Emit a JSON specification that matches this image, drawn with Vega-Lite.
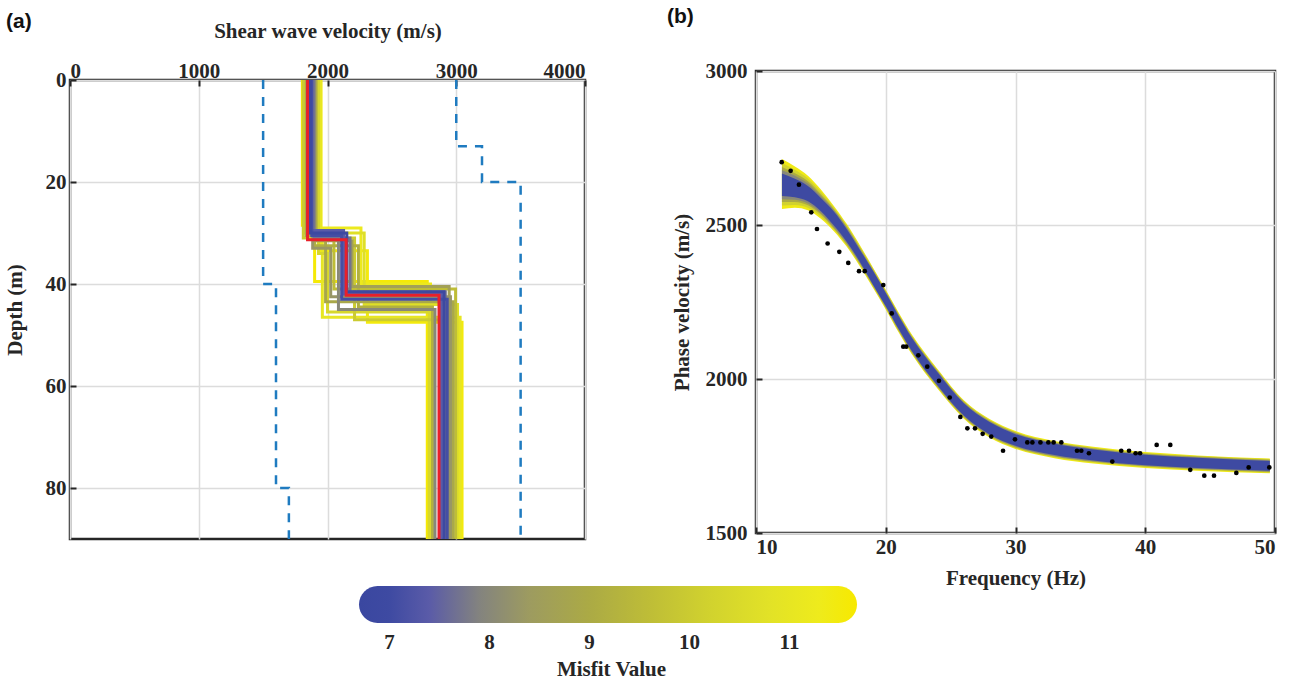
{
"$schema": "https://vega.github.io/schema/vega-lite/v6.json",
"background": "white",
"padding": {"left": 2, "top": 4, "right": 5, "bottom": 1},
"config": {
  "font": "Liberation Serif",
  "view": {"stroke": "#262626", "strokeWidth": 2.5},
  "axis": {"labelFont": "Liberation Serif", "labelFontSize": 21, "labelFontWeight": "bold", "labelColor": "#262626", "titleFont": "Liberation Serif", "titleFontSize": 21, "titleFontWeight": "bold", "titleColor": "#262626", "domain": false, "ticks": true, "tickSize": -6, "tickColor": "#262626", "tickWidth": 2, "gridColor": "#dcdcdc", "gridWidth": 1.5},
  "title": {"font": "Liberation Sans", "fontSize": 21, "fontWeight": "bold", "color": "#111111", "anchor": "start", "frame": "group", "offset": 0}
},
"datasets": {
  "bounds": [
    {"s":"L","k":0,"d":0,"v":1500},{"s":"L","k":1,"d":40,"v":1500},{"s":"L","k":2,"d":40,"v":1600},{"s":"L","k":3,"d":80,"v":1600},{"s":"L","k":4,"d":80,"v":1700},{"s":"L","k":5,"d":90,"v":1700},
    {"s":"U","k":0,"d":0,"v":3000},{"s":"U","k":1,"d":13,"v":3000},{"s":"U","k":2,"d":13,"v":3200},{"s":"U","k":3,"d":20,"v":3200},{"s":"U","k":4,"d":20,"v":3500},{"s":"U","k":5,"d":90,"v":3500}
  ],
  "ensemble": [
    {"id":1,"m":11.6,"k":0,"d":0,"v":1805},{"id":1,"m":11.6,"k":1,"d":28.5,"v":1805},{"id":1,"m":11.6,"k":2,"d":28.5,"v":1900},{"id":1,"m":11.6,"k":3,"d":39.5,"v":1900},{"id":1,"m":11.6,"k":4,"d":39.5,"v":2775},{"id":1,"m":11.6,"k":5,"d":90,"v":2775},
    {"id":2,"m":11.5,"k":0,"d":0,"v":1950},{"id":2,"m":11.5,"k":1,"d":33.5,"v":1950},{"id":2,"m":11.5,"k":2,"d":33.5,"v":2310},{"id":2,"m":11.5,"k":3,"d":47.5,"v":2310},{"id":2,"m":11.5,"k":4,"d":47.5,"v":3045},{"id":2,"m":11.5,"k":5,"d":90,"v":3045},
    {"id":3,"m":11.2,"k":0,"d":0,"v":1815},{"id":3,"m":11.2,"k":1,"d":29,"v":1815},{"id":3,"m":11.2,"k":2,"d":29,"v":2260},{"id":3,"m":11.2,"k":3,"d":40,"v":2260},{"id":3,"m":11.2,"k":4,"d":40,"v":2800},{"id":3,"m":11.2,"k":5,"d":90,"v":2800},
    {"id":4,"m":11.0,"k":0,"d":0,"v":1945},{"id":4,"m":11.0,"k":1,"d":32,"v":1945},{"id":4,"m":11.0,"k":2,"d":32,"v":1960},{"id":4,"m":11.0,"k":3,"d":46.5,"v":1960},{"id":4,"m":11.0,"k":4,"d":46.5,"v":3030},{"id":4,"m":11.0,"k":5,"d":90,"v":3030},
    {"id":5,"m":10.7,"k":0,"d":0,"v":1825},{"id":5,"m":10.7,"k":1,"d":30,"v":1825},{"id":5,"m":10.7,"k":2,"d":30,"v":2285},{"id":5,"m":10.7,"k":3,"d":44,"v":2285},{"id":5,"m":10.7,"k":4,"d":44,"v":3010},{"id":5,"m":10.7,"k":5,"d":90,"v":3010},
    {"id":6,"m":10.4,"k":0,"d":0,"v":1930},{"id":6,"m":10.4,"k":1,"d":34,"v":1930},{"id":6,"m":10.4,"k":2,"d":34,"v":2000},{"id":6,"m":10.4,"k":3,"d":45.5,"v":2000},{"id":6,"m":10.4,"k":4,"d":45.5,"v":2790},{"id":6,"m":10.4,"k":5,"d":90,"v":2790},
    {"id":7,"m":10.0,"k":0,"d":0,"v":1812},{"id":7,"m":10.0,"k":1,"d":31,"v":1812},{"id":7,"m":10.0,"k":2,"d":31,"v":2210},{"id":7,"m":10.0,"k":3,"d":47,"v":2210},{"id":7,"m":10.0,"k":4,"d":47,"v":2965},{"id":7,"m":10.0,"k":5,"d":90,"v":2965},
    {"id":8,"m":9.6,"k":0,"d":0,"v":1915},{"id":8,"m":9.6,"k":1,"d":29.5,"v":1915},{"id":8,"m":9.6,"k":2,"d":29.5,"v":2050},{"id":8,"m":9.6,"k":3,"d":41,"v":2050},{"id":8,"m":9.6,"k":4,"d":41,"v":2995},{"id":8,"m":9.6,"k":5,"d":90,"v":2995},
    {"id":9,"m":9.2,"k":0,"d":0,"v":1900},{"id":9,"m":9.2,"k":1,"d":32.5,"v":1900},{"id":9,"m":9.2,"k":2,"d":32.5,"v":2240},{"id":9,"m":9.2,"k":3,"d":44.5,"v":2240},{"id":9,"m":9.2,"k":4,"d":44.5,"v":2815},{"id":9,"m":9.2,"k":5,"d":90,"v":2815},
    {"id":10,"m":8.9,"k":0,"d":0,"v":1835},{"id":10,"m":8.9,"k":1,"d":30.5,"v":1835},{"id":10,"m":8.9,"k":2,"d":30.5,"v":1985},{"id":10,"m":8.9,"k":3,"d":43.5,"v":1985},{"id":10,"m":8.9,"k":4,"d":43.5,"v":2975},{"id":10,"m":8.9,"k":5,"d":90,"v":2975},
    {"id":11,"m":8.6,"k":0,"d":0,"v":1905},{"id":11,"m":8.6,"k":1,"d":31.5,"v":1905},{"id":11,"m":8.6,"k":2,"d":31.5,"v":2190},{"id":11,"m":8.6,"k":3,"d":40.5,"v":2190},{"id":11,"m":8.6,"k":4,"d":40.5,"v":2945},{"id":11,"m":8.6,"k":5,"d":90,"v":2945},
    {"id":12,"m":8.3,"k":0,"d":0,"v":1885},{"id":12,"m":8.3,"k":1,"d":33,"v":1885},{"id":12,"m":8.3,"k":2,"d":33,"v":2025},{"id":12,"m":8.3,"k":3,"d":42.5,"v":2025},{"id":12,"m":8.3,"k":4,"d":42.5,"v":2955},{"id":12,"m":8.3,"k":5,"d":90,"v":2955},
    {"id":13,"m":8.0,"k":0,"d":0,"v":1860},{"id":13,"m":8.0,"k":1,"d":30,"v":1860},{"id":13,"m":8.0,"k":2,"d":30,"v":2085},{"id":13,"m":8.0,"k":3,"d":45,"v":2085},{"id":13,"m":8.0,"k":4,"d":45,"v":2835},{"id":13,"m":8.0,"k":5,"d":90,"v":2835},
    {"id":14,"m":7.7,"k":0,"d":0,"v":1895},{"id":14,"m":7.7,"k":1,"d":31,"v":1895},{"id":14,"m":7.7,"k":2,"d":31,"v":2175},{"id":14,"m":7.7,"k":3,"d":41.5,"v":2175},{"id":14,"m":7.7,"k":4,"d":41.5,"v":2915},{"id":14,"m":7.7,"k":5,"d":90,"v":2915},
    {"id":15,"m":7.4,"k":0,"d":0,"v":1870},{"id":15,"m":7.4,"k":1,"d":29.5,"v":1870},{"id":15,"m":7.4,"k":2,"d":29.5,"v":2125},{"id":15,"m":7.4,"k":3,"d":42,"v":2125},{"id":15,"m":7.4,"k":4,"d":42,"v":2885},{"id":15,"m":7.4,"k":5,"d":90,"v":2885},
    {"id":16,"m":7.1,"k":0,"d":0,"v":1878},{"id":16,"m":7.1,"k":1,"d":30.5,"v":1878},{"id":16,"m":7.1,"k":2,"d":30.5,"v":2110},{"id":16,"m":7.1,"k":3,"d":43,"v":2110},{"id":16,"m":7.1,"k":4,"d":43,"v":2930},{"id":16,"m":7.1,"k":5,"d":90,"v":2930},
    {"id":17,"m":6.9,"k":0,"d":0,"v":1866},{"id":17,"m":6.9,"k":1,"d":30,"v":1866},{"id":17,"m":6.9,"k":2,"d":30,"v":2150},{"id":17,"m":6.9,"k":3,"d":41.5,"v":2150},{"id":17,"m":6.9,"k":4,"d":41.5,"v":2905},{"id":17,"m":6.9,"k":5,"d":90,"v":2905}
  ],
  "best": [
    {"k":0,"d":0,"v":1845},{"k":1,"d":31.3,"v":1845},{"k":2,"d":31.3,"v":2145},{"k":3,"d":42.2,"v":2145},{"k":4,"d":42.2,"v":2866},{"k":5,"d":90,"v":2866}
  ],
  "bands": [
    {"m":11.4,"f":12,"hi":2714,"lo":2552},{"m":11.4,"f":13,"hi":2690,"lo":2556},{"m":11.4,"f":14,"hi":2660,"lo":2548},{"m":11.4,"f":15,"hi":2615,"lo":2520},{"m":11.4,"f":16,"hi":2562,"lo":2480},{"m":11.4,"f":17,"hi":2503,"lo":2429},{"m":11.4,"f":18,"hi":2435,"lo":2366},{"m":11.4,"f":19,"hi":2363,"lo":2297},{"m":11.4,"f":20,"hi":2290,"lo":2226},{"m":11.4,"f":21,"hi":2215,"lo":2151},{"m":11.4,"f":22,"hi":2145,"lo":2081},{"m":11.4,"f":24,"hi":2032,"lo":1968},{"m":11.4,"f":26,"hi":1932,"lo":1872},{"m":11.4,"f":28,"hi":1870,"lo":1810},{"m":11.4,"f":30,"hi":1831,"lo":1773},{"m":11.4,"f":33,"hi":1799,"lo":1743},{"m":11.4,"f":36,"hi":1780,"lo":1726},{"m":11.4,"f":40,"hi":1763,"lo":1711},{"m":11.4,"f":44,"hi":1752,"lo":1702},{"m":11.4,"f":49.6,"hi":1742,"lo":1694},
    {"m":10.2,"f":12,"hi":2701,"lo":2563},{"m":10.2,"f":13,"hi":2679,"lo":2565},{"m":10.2,"f":14,"hi":2651,"lo":2556},{"m":10.2,"f":15,"hi":2608,"lo":2527},{"m":10.2,"f":16,"hi":2557,"lo":2485},{"m":10.2,"f":17,"hi":2498,"lo":2433},{"m":10.2,"f":18,"hi":2431,"lo":2370},{"m":10.2,"f":19,"hi":2360,"lo":2300},{"m":10.2,"f":20,"hi":2287,"lo":2229},{"m":10.2,"f":21,"hi":2212,"lo":2154},{"m":10.2,"f":22,"hi":2142,"lo":2084},{"m":10.2,"f":24,"hi":2029,"lo":1971},{"m":10.2,"f":26,"hi":1929,"lo":1875},{"m":10.2,"f":28,"hi":1867,"lo":1813},{"m":10.2,"f":30,"hi":1828,"lo":1776},{"m":10.2,"f":33,"hi":1796,"lo":1746},{"m":10.2,"f":36,"hi":1777,"lo":1729},{"m":10.2,"f":40,"hi":1760,"lo":1714},{"m":10.2,"f":44,"hi":1750,"lo":1705},{"m":10.2,"f":49.6,"hi":1740,"lo":1696},
    {"m":9.0,"f":12,"hi":2688,"lo":2575},{"m":9.0,"f":13,"hi":2668,"lo":2575},{"m":9.0,"f":14,"hi":2642,"lo":2564},{"m":9.0,"f":15,"hi":2600,"lo":2534},{"m":9.0,"f":16,"hi":2552,"lo":2489},{"m":9.0,"f":17,"hi":2494,"lo":2437},{"m":9.0,"f":18,"hi":2427,"lo":2374},{"m":9.0,"f":19,"hi":2357,"lo":2303},{"m":9.0,"f":20,"hi":2284,"lo":2232},{"m":9.0,"f":21,"hi":2209,"lo":2157},{"m":9.0,"f":22,"hi":2139,"lo":2087},{"m":9.0,"f":24,"hi":2026,"lo":1974},{"m":9.0,"f":26,"hi":1927,"lo":1877},{"m":9.0,"f":28,"hi":1865,"lo":1815},{"m":9.0,"f":30,"hi":1826,"lo":1778},{"m":9.0,"f":33,"hi":1794,"lo":1748},{"m":9.0,"f":36,"hi":1775,"lo":1731},{"m":9.0,"f":40,"hi":1758,"lo":1716},{"m":9.0,"f":44,"hi":1748,"lo":1707},{"m":9.0,"f":49.6,"hi":1738,"lo":1698},
    {"m":8.0,"f":12,"hi":2678,"lo":2584},{"m":8.0,"f":13,"hi":2660,"lo":2582},{"m":8.0,"f":14,"hi":2635,"lo":2570},{"m":8.0,"f":15,"hi":2594,"lo":2539},{"m":8.0,"f":16,"hi":2548,"lo":2493},{"m":8.0,"f":17,"hi":2491,"lo":2441},{"m":8.0,"f":18,"hi":2423,"lo":2377},{"m":8.0,"f":19,"hi":2354,"lo":2306},{"m":8.0,"f":20,"hi":2282,"lo":2234},{"m":8.0,"f":21,"hi":2207,"lo":2159},{"m":8.0,"f":22,"hi":2137,"lo":2089},{"m":8.0,"f":24,"hi":2024,"lo":1976},{"m":8.0,"f":26,"hi":1924,"lo":1880},{"m":8.0,"f":28,"hi":1862,"lo":1818},{"m":8.0,"f":30,"hi":1824,"lo":1781},{"m":8.0,"f":33,"hi":1792,"lo":1750},{"m":8.0,"f":36,"hi":1773,"lo":1733},{"m":8.0,"f":40,"hi":1756,"lo":1718},{"m":8.0,"f":44,"hi":1746,"lo":1709},{"m":8.0,"f":49.6,"hi":1736,"lo":1700},
    {"m":7.0,"f":12,"hi":2667,"lo":2594},{"m":7.0,"f":13,"hi":2650,"lo":2590},{"m":7.0,"f":14,"hi":2627,"lo":2577},{"m":7.0,"f":15,"hi":2588,"lo":2545},{"m":7.0,"f":16,"hi":2544,"lo":2498},{"m":7.0,"f":17,"hi":2486,"lo":2445},{"m":7.0,"f":18,"hi":2420,"lo":2381},{"m":7.0,"f":19,"hi":2352,"lo":2308},{"m":7.0,"f":20,"hi":2279,"lo":2237},{"m":7.0,"f":21,"hi":2204,"lo":2162},{"m":7.0,"f":22,"hi":2134,"lo":2092},{"m":7.0,"f":24,"hi":2021,"lo":1979},{"m":7.0,"f":26,"hi":1922,"lo":1882},{"m":7.0,"f":28,"hi":1860,"lo":1820},{"m":7.0,"f":30,"hi":1821,"lo":1783},{"m":7.0,"f":33,"hi":1790,"lo":1753},{"m":7.0,"f":36,"hi":1771,"lo":1735},{"m":7.0,"f":40,"hi":1754,"lo":1720},{"m":7.0,"f":44,"hi":1744,"lo":1711},{"m":7.0,"f":49.6,"hi":1734,"lo":1702}
  ],
  "obs": [
    {"f":11.98,"v":2704},{"f":12.67,"v":2676},{"f":13.31,"v":2631},{"f":14.26,"v":2541},{"f":14.7,"v":2487},{"f":15.52,"v":2440},{"f":16.42,"v":2413},{"f":17.11,"v":2377},{"f":17.94,"v":2350},{"f":18.38,"v":2350},
    {"f":19.81,"v":2305},{"f":20.46,"v":2213},{"f":21.35,"v":2105},{"f":21.58,"v":2105},{"f":22.51,"v":2077},{"f":23.2,"v":2040},{"f":24.1,"v":1994},{"f":24.93,"v":1940},{"f":25.75,"v":1877},{"f":26.29,"v":1840},
    {"f":26.88,"v":1840},{"f":27.47,"v":1822},{"f":28.13,"v":1813},{"f":29.04,"v":1767},{"f":29.96,"v":1804},{"f":30.91,"v":1794},{"f":31.3,"v":1794},{"f":31.92,"v":1794},{"f":32.53,"v":1794},{"f":32.94,"v":1794},
    {"f":33.53,"v":1794},{"f":34.74,"v":1767},{"f":35.07,"v":1767},{"f":35.66,"v":1759},{"f":37.46,"v":1732},{"f":38.15,"v":1767},{"f":38.75,"v":1767},{"f":39.26,"v":1759},{"f":39.6,"v":1759},{"f":40.88,"v":1786},
    {"f":41.93,"v":1786},{"f":43.47,"v":1705},{"f":44.55,"v":1686},{"f":45.3,"v":1686},{"f":47.02,"v":1695},{"f":47.97,"v":1713},{"f":49.56,"v":1713}
  ]
},
"spacing": 686,
"bounds": "flush",
"hconcat": [
  {
    "spacing": 0,
    "bounds": "flush",
    "vconcat": [
      {"width": 515, "height": 9, "view": {"stroke": null}, "data": {"values": [{"a": 1}]}, "mark": {"type": "text", "text": ""}, "encoding": {}},
      {
        "width": 515, "height": 459,
        "title": {"text": "(a)", "dx": -64, "dy": 15.5},
        "layer": [
          {
            "data": {"name": "bounds"},
            "mark": {"type": "line", "strokeDash": [9, 8], "strokeWidth": 2.5, "color": "#1f7bc0", "clip": true},
            "encoding": {
              "x": {"field": "v", "type": "quantitative", "scale": {"domain": [0, 4000], "nice": false, "zero": false},
                    "axis": {"orient": "top", "values": [0, 1000, 2000, 3000, 4000], "format": "d", "title": "Shear wave velocity (m/s)", "labelPadding": 5, "titlePadding": 19, "grid": true}},
              "y": {"field": "d", "type": "quantitative", "scale": {"domain": [0, 90], "nice": false, "zero": false, "reverse": true},
                    "axis": {"orient": "left", "values": [0, 20, 40, 60, 80], "format": "d", "title": "Depth (m)", "labelPadding": 10, "titlePadding": 20, "grid": true}},
              "detail": {"field": "s", "type": "nominal"},
              "order": {"field": "k", "type": "quantitative"}
            }
          },
          {
            "data": {"name": "ensemble"},
            "mark": {"type": "line", "strokeWidth": 3, "strokeJoin": "miter", "clip": true},
            "encoding": {
              "x": {"field": "v", "type": "quantitative"},
              "y": {"field": "d", "type": "quantitative"},
              "color": {"field": "m", "type": "quantitative", "legend": null,
                        "scale": {"domain": [6.7, 7.0, 7.4, 7.9, 8.4, 9.0, 9.6, 10.2, 10.8, 11.3, 11.68], "range": ["#3a47a0", "#3e4aa2", "#5a5ba8", "#83837f", "#9d9b60", "#abaa45", "#bebd37", "#d1d22e", "#e2e227", "#eeeb1c", "#f7e900"], "interpolate": "rgb", "clamp": true}},
              "detail": {"field": "id", "type": "nominal"},
              "order": {"field": "k", "type": "quantitative"}
            }
          },
          {
            "data": {"name": "best"},
            "mark": {"type": "line", "strokeWidth": 3, "color": "#e8202a", "strokeJoin": "miter", "clip": true},
            "encoding": {
              "x": {"field": "v", "type": "quantitative"},
              "y": {"field": "d", "type": "quantitative"},
              "order": {"field": "k", "type": "quantitative"}
            }
          }
        ]
      },
      {
        "width": 1205, "height": 84,
        "view": {"stroke": null},
        "data": {"values": [{"lo": 6.7, "hi": 11.68, "b0": 0, "b1": 1}]},
        "mark": {"type": "rect", "cornerRadius": 18.5,
                 "color": {"gradient": "linear", "x1": 0, "y1": 0, "x2": 1, "y2": 0,
                           "stops": [{"offset": 0, "color": "#3a47a0"}, {"offset": 0.0602, "color": "#3e4aa2"}, {"offset": 0.1406, "color": "#5a5ba8"}, {"offset": 0.241, "color": "#83837f"}, {"offset": 0.3414, "color": "#9d9b60"}, {"offset": 0.4618, "color": "#abaa45"}, {"offset": 0.5823, "color": "#bebd37"}, {"offset": 0.7028, "color": "#d1d22e"}, {"offset": 0.8233, "color": "#e2e227"}, {"offset": 0.9237, "color": "#eeeb1c"}, {"offset": 1, "color": "#f7e900"}]}},
        "encoding": {
          "x": {"field": "lo", "type": "quantitative", "scale": {"domain": [3.81, 15.86], "nice": false, "zero": false},
                "axis": {"orient": "bottom", "values": [7, 8, 9, 10, 11], "title": "Misfit Value", "titleX": 541, "grid": false, "ticks": false, "domain": false, "labelPadding": 8, "titlePadding": 6}},
          "x2": {"field": "hi"},
          "y": {"field": "b0", "type": "quantitative", "scale": {"domain": [0, 2.2703], "nice": false, "zero": false}, "axis": null},
          "y2": {"field": "b1"}
        }
      }
    ]
  },
  {
    "width": 519, "height": 462,
    "title": {"text": "(b)", "dx": -89, "dy": -29.5},
    "layer": [
      {
        "data": {"name": "bands"},
        "mark": {"type": "area", "interpolate": "monotone", "opacity": 1},
        "encoding": {
          "x": {"field": "f", "type": "quantitative", "scale": {"domain": [10, 50], "nice": false, "zero": false},
                "axis": {"orient": "bottom", "values": [10, 20, 30, 40, 50], "format": "d", "title": "Frequency (Hz)", "labelPadding": 9, "titlePadding": 10, "grid": true}},
          "y": {"field": "hi", "type": "quantitative", "scale": {"domain": [1500, 3000], "nice": false, "zero": false},
                "axis": {"orient": "left", "values": [1500, 2000, 2500, 3000], "format": "d", "title": "Phase velocity (m/s)", "labelPadding": 15, "titlePadding": 13, "grid": true}},
          "y2": {"field": "lo"},
          "color": {"field": "m", "type": "quantitative", "legend": null,
                    "scale": {"domain": [6.7, 7.0, 7.4, 7.9, 8.4, 9.0, 9.6, 10.2, 10.8, 11.3, 11.68], "range": ["#3a47a0", "#3e4aa2", "#5a5ba8", "#83837f", "#9d9b60", "#abaa45", "#bebd37", "#d1d22e", "#e2e227", "#eeeb1c", "#f7e900"], "interpolate": "rgb", "clamp": true}},
          "detail": {"field": "m", "type": "nominal"}
        }
      },
      {
        "data": {"name": "obs"},
        "mark": {"type": "point", "filled": true, "color": "#000000", "size": 22, "opacity": 1},
        "encoding": {
          "x": {"field": "f", "type": "quantitative"},
          "y": {"field": "v", "type": "quantitative"}
        }
      }
    ]
  }
]
}
